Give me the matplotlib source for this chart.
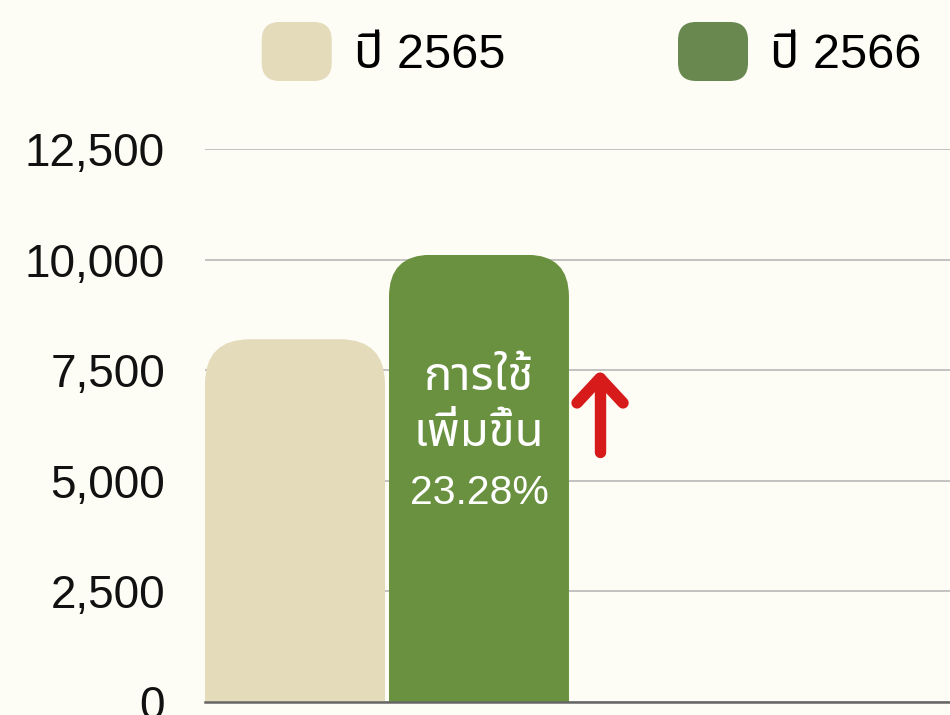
import matplotlib
matplotlib.use("Agg")
import matplotlib.pyplot as plt
import matplotlib.font_manager as fm
from matplotlib.ft2font import FT2Font
from matplotlib.patches import FancyBboxPatch, Patch
from matplotlib.legend_handler import HandlerPatch
from matplotlib.transforms import IdentityTransform
from matplotlib.ticker import FuncFormatter

# ---- data ----
series_labels = ["ปี 2565", "ปี 2566"]
values = [8200, 10109]
yticks = [0, 2500, 5000, 7500, 10000, 12500]
note_lines = ["การใช้", "เพิ่มขึ้น", "23.28%"]
note_line_y = [7320, 6060, 4730]
arrow_from = 5650
arrow_to = 7320

colors = ["#E4DBBB", "#6A913F"]
legend_colors = ["#E4DBBB", "#688850"]
bg = "#FDFDF6"

# ---- find a Thai-capable font ----
thai_font = None
cands = []
for f in fm.fontManager.ttflist:
    try:
        cm = FT2Font(f.fname).get_charmap()
    except Exception:
        continue
    if 0x0E1B in cm and 0x0E49 in cm:
        cands.append(f.name)
pref = ["Noto Sans Thai", "Noto Sans Thai Looped", "Sarabun", "Prompt", "Kanit",
        "Loma", "Garuda", "Norasi", "Tlwg Typo", "Waree", "Umpush"]
for p in pref:
    if p in cands:
        thai_font = p
        break
if thai_font is None and cands:
    thai_font = cands[0]
fams = ["Liberation Sans"] + ([thai_font] if thai_font else []) + ["DejaVu Sans"]
plt.rcParams["font.family"] = fams

fig = plt.figure(figsize=(9.5, 7.15), dpi=100, facecolor=bg)
ax = fig.add_axes([205 / 950, 1 - 702 / 715, 1 - 205 / 950, (702 - 149) / 715])
ax.set_facecolor(bg)

xpos = [0, 1]
bars = ax.bar(xpos, values, width=180 / 184, color=colors, zorder=3, linewidth=0)
ax.set_xlim(-0.489, 3.56)
ax.set_ylim(0, 12500)
ax.set_yticks(yticks)
ax.yaxis.set_major_formatter(FuncFormatter(lambda v, p: f"{int(v):,}"))
ax.tick_params(axis="y", length=0, pad=28.8, labelsize=33, labelcolor="#111111")
ax.tick_params(axis="x", length=0, labelbottom=False)
ax.grid(axis="y", color="#BDBDBD", linewidth=1.3, zorder=0)
for s in ["left", "right", "top"]:
    ax.spines[s].set_visible(False)
ax.spines["bottom"].set_color("#666666")
ax.spines["bottom"].set_linewidth(1.8)
ax.spines["bottom"].set_zorder(4)

# rounded tops via clip paths in display space
fig.canvas.draw()
radii = [45, 42]
for b, r in zip(bars, radii):
    bb = b.get_window_extent()
    clip = FancyBboxPatch((bb.x0, bb.y0 - 2 * r), bb.width, bb.height + 2 * r,
                          boxstyle=f"round,pad=0,rounding_size={r}",
                          transform=IdentityTransform())
    b.set_clip_path(clip)

note_sizes = [34, 34, 29.5]
for txt, yv, fs in zip(note_lines, note_line_y, note_sizes):
    ax.text(xpos[1], yv, txt, ha="center", va="center", color="white",
            fontsize=fs, zorder=5)

# red up arrow (shaft + open chevron head)
ax_x = 1.658
arm_dx, arm_dy = 0.125, 560
ax.plot([ax_x, ax_x], [arrow_from, arrow_to], color="#D71A1A", lw=8.2,
        solid_capstyle="round", zorder=6)
ax.plot([ax_x - arm_dx, ax_x, ax_x + arm_dx], [arrow_to - arm_dy, arrow_to, arrow_to - arm_dy],
        color="#D71A1A", lw=8.2, solid_capstyle="round", solid_joinstyle="round", zorder=6)


class RoundHandler(HandlerPatch):
    def create_artists(self, legend, orig_handle, xdescent, ydescent, width, height, fontsize, trans):
        p = FancyBboxPatch((-xdescent, -ydescent - 9), width, height + 18,
                           boxstyle="round,pad=0,rounding_size=13",
                           facecolor=orig_handle.get_facecolor(), edgecolor="none", transform=trans)
        return [p]


handles = [Patch(facecolor=c) for c in legend_colors]
leg = fig.legend(handles, series_labels, loc="center", bbox_to_anchor=(591.5 / 950, 1 - 56 / 715),
                 ncol=2, frameon=False, fontsize=35, handlelength=1.44, handleheight=0.7,
                 handletextpad=0.45, columnspacing=3.56,
                 handler_map={Patch: RoundHandler()})

fig.savefig("out.png", dpi=100, facecolor=bg)
